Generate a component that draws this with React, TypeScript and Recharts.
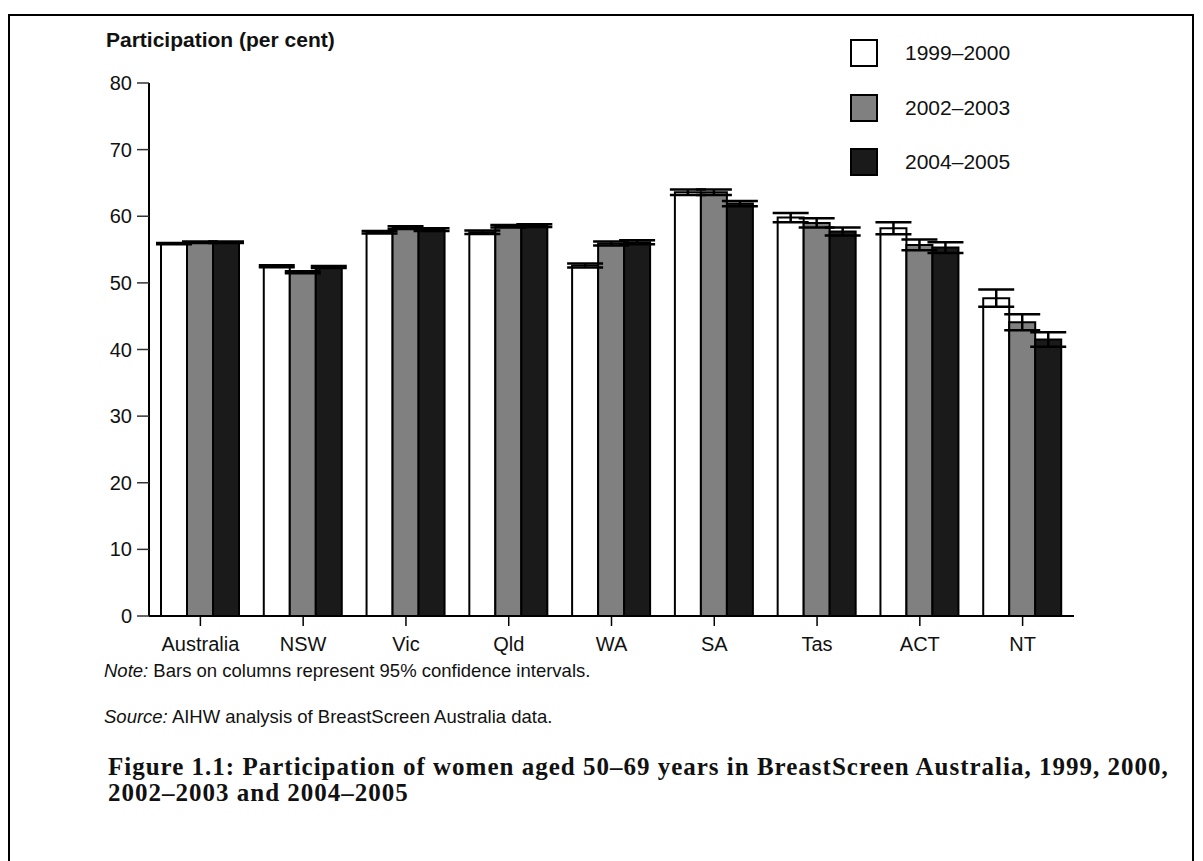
import React from "react";
import { Bar, BarChart, ErrorBar, XAxis, YAxis } from "recharts";

const regions = ["Australia", "NSW", "Vic", "Qld", "WA", "SA", "Tas", "ACT", "NT"];
const p1999 = [55.9, 52.5, 57.6, 57.6, 52.6, 63.6, 59.8, 58.2, 47.7];
const p2002 = [56.1, 51.6, 58.3, 58.5, 55.9, 63.6, 59.0, 55.7, 44.1];
const p2004 = [56.1, 52.4, 58.0, 58.6, 56.1, 61.9, 57.7, 55.3, 41.5];
const ci1999 = [0.1, 0.15, 0.2, 0.25, 0.3, 0.4, 0.7, 0.9, 1.3];
const ci2002 = [0.1, 0.15, 0.2, 0.2, 0.3, 0.4, 0.7, 0.8, 1.2];
const ci2004 = [0.1, 0.15, 0.2, 0.2, 0.3, 0.4, 0.6, 0.8, 1.1];
const yTicks = [0, 10, 20, 30, 40, 50, 60, 70, 80];

const series = [
  { key: "p1999", err: "ci1999", name: "1999–2000", fill: "#ffffff" },
  { key: "p2002", err: "ci2002", name: "2002–2003", fill: "#808080" },
  { key: "p2004", err: "ci2004", name: "2004–2005", fill: "#1a1a1a" },
];

const data = regions.map((region, i) => ({
  region,
  p1999: p1999[i],
  p2002: p2002[i],
  p2004: p2004[i],
  ci1999: ci1999[i],
  ci2002: ci2002[i],
  ci2004: ci2004[i],
}));

const sans = "'Liberation Sans', Arial, sans-serif";

function LegendBox() {
  return (
    <div style={{ position: "absolute", left: 850, top: 26, fontFamily: sans, fontSize: 21, color: "#111" }}>
      {series.map((s) => (
        <div key={s.key} style={{ display: "flex", alignItems: "center", height: 54.5 }}>
          <div
            style={{
              width: 28,
              height: 28,
              background: s.fill,
              border: "2.5px solid #000",
              boxSizing: "border-box",
              marginRight: 27,
            }}
          />
          <span>{s.name}</span>
        </div>
      ))}
    </div>
  );
}

export default function App() {
  return (
    <div style={{ position: "absolute", left: 0, top: 0, width: 1203, height: 861, background: "#fff" }}>
      <div
        style={{
          position: "absolute",
          left: 8,
          top: 14,
          width: 1186,
          height: 900,
          border: "2px solid #000",
          boxSizing: "border-box",
        }}
      />
      <div
        style={{
          position: "absolute",
          left: 106,
          top: 28,
          fontFamily: sans,
          fontWeight: "bold",
          fontSize: 21,
          color: "#111",
        }}
      >
        Participation (per cent)
      </div>
      <div style={{ position: "absolute", left: 0, top: 0 }}>
        <BarChart
          width={1203}
          height={700}
          data={data}
          margin={{ top: 83, right: 129, bottom: 44, left: 89 }}
          barCategoryGap={12}
          barGap={0}
        >
          <XAxis
            dataKey="region"
            axisLine={{ stroke: "#000", strokeWidth: 2 }}
            tickLine={{ stroke: "#000", strokeWidth: 1.5 }}
            tickSize={10}
            tickMargin={11}
            height={40}
            tick={{ fill: "#111", fontSize: 20, fontFamily: sans }}
            interval={0}
          />
          <YAxis
            domain={[0, 80]}
            ticks={yTicks}
            width={60}
            axisLine={{ stroke: "#000", strokeWidth: 2 }}
            tickLine={{ stroke: "#333", strokeWidth: 1.5 }}
            tickSize={12}
            tickMargin={5}
            tick={{ fill: "#111", fontSize: 20, fontFamily: sans }}
            interval={0}
          />
          {series.map((s) => (
            <Bar
              key={s.key}
              dataKey={s.key}
              name={s.name}
              fill={s.fill}
              stroke="#000"
              strokeWidth={2}
              isAnimationActive={false}
            >
              <ErrorBar dataKey={s.err} width={18} stroke="#000" strokeWidth={2.5} />
            </Bar>
          ))}
        </BarChart>
      </div>
      <LegendBox />
      <div style={{ position: "absolute", left: 104, top: 660, fontFamily: sans, fontSize: 18.5, color: "#111" }}>
        <i>Note:</i> Bars on columns represent 95% confidence intervals.
      </div>
      <div style={{ position: "absolute", left: 104, top: 706, fontFamily: sans, fontSize: 18.5, color: "#111" }}>
        <i>Source:</i> AIHW analysis of BreastScreen Australia data.
      </div>
      <div
        style={{
          position: "absolute",
          left: 108,
          top: 754,
          width: 1085,
          fontFamily: "'Liberation Serif', 'Times New Roman', serif",
          fontWeight: "bold",
          fontSize: 25,
          letterSpacing: 1.0,
          lineHeight: "26px",
          whiteSpace: "nowrap",
          color: "#111",
        }}
      >
        Figure 1.1: Participation of women aged 50–69 years in BreastScreen Australia, 1999, 2000,
        <br />
        2002–2003 and 2004–2005
      </div>
    </div>
  );
}
